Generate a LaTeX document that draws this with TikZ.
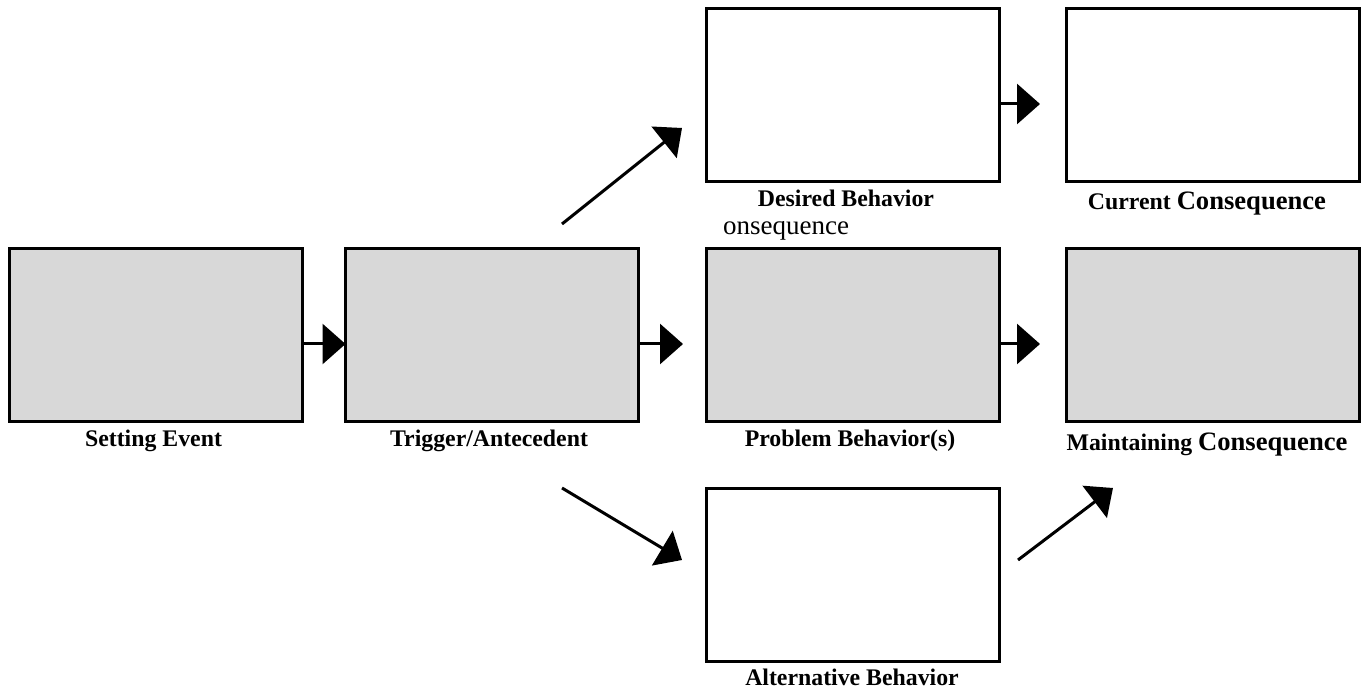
\documentclass[tikz,border=0pt]{standalone}
\usepackage{fontspec}
\setmainfont{Liberation Serif}
\usetikzlibrary{arrows.meta}
\definecolor{boxgray}{HTML}{D8D8D8}
\begin{document}
\begin{tikzpicture}[x=1pt,y=-1pt,
  box/.style={draw=black,line width=3pt,minimum width=293pt,minimum height=173pt,inner sep=0pt,outer sep=0pt},
  grayb/.style={box,fill=boxgray},
  whiteb/.style={box,fill=white},
  arr/.style={line width=3pt,-{Triangle[length=23pt,width=40pt]}},
  lab/.style={anchor=base,inner sep=0pt,font=\fontsize{23.8}{27}\selectfont\bfseries}]
\useasboundingbox[fill=white] (0,0) rectangle (1366,692);
% boxes
\node[grayb] (set) at (156,335) {};
\node[grayb] (trig) at (492,335) {};
\node[grayb] (prob) at (852.5,335) {};
\node[grayb] (main) at (1212.5,335) {};
\node[whiteb] (des) at (852.5,95.5) {};
\node[whiteb] (cur) at (1212.5,95.5) {};
\node[whiteb] (alt) at (852.5,575) {};
% labels
\node[lab] (lset) at (153.5,447) {Setting Event};
\node[lab] (ltrig) at (489,447) {Trigger/Antecedent};
\node[lab] (lprob) at (850,447) {Problem Behavior(s)};
\node[lab] (lmain) at (1207,450) {Maintaining {\fontsize{26.6}{31}\selectfont Consequence}};
\node[lab] (ldes) at (846,207) {Desired Behavior};
\node[anchor=base west,inner sep=0pt,font=\fontsize{27}{31}\selectfont] (lons) at (723,235) {onsequence};
\node[lab] (lcur) at (1207,210) {Current {\fontsize{26.6}{31}\selectfont Consequence}};
\node[lab] (lalt) at (852,685) {Alternative Behavior};
% diagonal end points
\coordinate (d1s) at (562,224);
\coordinate (d1e) at (682,128);
\coordinate (d2s) at (562,488);
\coordinate (d2e) at (682,560);
\coordinate (d3s) at (1018,560);
\coordinate (d3e) at (1113,488);
% arrows
\draw[arr] ([yshift=-9pt]set.east) -- ([yshift=-9pt]trig.west);
\draw[arr,shorten >=23pt] ([yshift=-9pt]trig.east) -- ([yshift=-9pt]prob.west);
\draw[arr,shorten >=26pt] ([yshift=-9pt]prob.east) -- ([yshift=-9pt]main.west);
\draw[arr,shorten >=26pt] ([yshift=-8.5pt]des.east) -- ([yshift=-8.5pt]cur.west);
\draw[arr] (d1s) -- (d1e);
\draw[arr] (d2s) -- (d2e);
\draw[arr] (d3s) -- (d3e);
\end{tikzpicture}
\end{document}
